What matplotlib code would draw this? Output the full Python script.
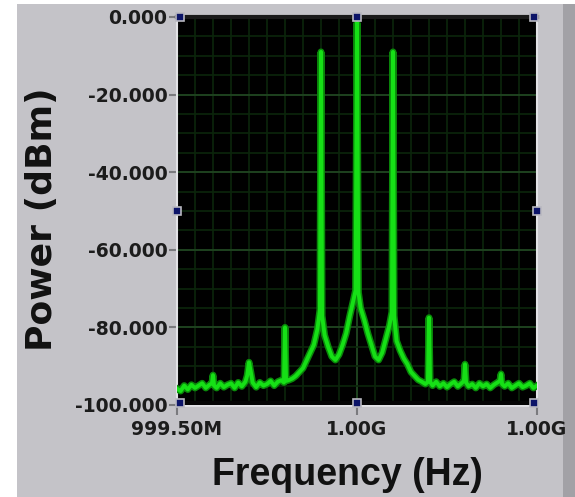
import matplotlib
matplotlib.use("Agg")
import matplotlib.pyplot as plt
from matplotlib.patches import Rectangle
from matplotlib.ticker import FuncFormatter, FixedLocator, MultipleLocator, FixedFormatter

# ---------------- data ----------------
# frequency offset from 1.000 GHz, in kHz
offset_khz = [
    -500, -490, -480, -470, -460, -450, -440, -430, -420, -410,
    -403, -400, -397, -390, -380, -370, -360, -350, -340, -330,
    -320, -310, -305, -300, -295, -290, -280, -270, -260, -250,
    -240, -230, -220, -210, -203, -200, -197, -190, -180, -170,
    -160, -150, -140, -130, -120, -110, -103, -100, -97, -90,
    -80, -70, -60, -50, -40, -30, -20, -10, -4, 0,
    4, 10, 20, 30, 40, 50, 60, 70, 80, 90,
    97, 100, 103, 110, 120, 130, 140, 150, 160, 170,
    180, 190, 197, 200, 203, 210, 220, 230, 240, 250,
    260, 270, 280, 290, 297, 300, 303, 310, 320, 330,
    340, 350, 360, 370, 380, 390, 397, 400, 403, 410,
    420, 430, 440, 450, 460, 470, 480, 490, 500,
]
power_dbm = [
    -95.8, -96.4, -95.0, -96.0, -94.8, -95.6, -95.0, -94.4, -95.6, -94.8,
    -94.4, -92.3, -95.0, -95.6, -94.4, -95.4, -94.8, -94.4, -95.6, -94.2,
    -95.2, -94.0, -92.4, -89.0, -91.5, -94.2, -95.4, -94.2, -95.0, -94.6,
    -93.8, -95.0, -94.0, -93.6, -94.2, -80.0, -93.8, -93.6, -93.2, -92.5,
    -91.5, -90.5, -88.5, -86.5, -84.5, -80.5, -75.5, -9.0, -77.0, -82.0,
    -85.0, -87.5, -88.4, -87.0, -84.5, -81.5, -77.0, -73.0, -70.5, -1.5,
    -71.0, -75.0, -78.0, -81.5, -84.5, -87.5, -88.4, -86.5, -83.0, -79.5,
    -76.0, -9.0, -77.0, -83.5, -86.0, -88.0, -89.5, -91.5, -92.5, -93.5,
    -94.0, -94.6, -94.0, -77.5, -94.0, -95.0, -94.0, -95.2, -94.4, -95.4,
    -94.6, -94.0, -95.2, -94.4, -93.8, -89.5, -94.2, -95.2, -94.6, -95.6,
    -94.4, -95.2, -94.6, -95.6, -94.8, -94.2, -93.8, -92.0, -94.6, -95.2,
    -94.4, -95.6, -95.0, -94.4, -95.4, -95.0, -94.4, -95.6, -95.0,
]
center_mhz = 1000.0
x_ticks_mhz = [999.5, 1000.0, 1000.5]
x_tick_labels = ["999.50M", "1.00G", "1.00G"]
y_ticks = [0, -20, -40, -60, -80, -100]
x_label = "Frequency (Hz)"
y_label = "Power (dBm)"

# ---------------- figure ----------------
W, H = 575, 497
fig = plt.figure(figsize=(W / 100, H / 100), dpi=100)
fig.patch.set_facecolor("white")

# grey LabVIEW panel
panel = "#c4c3c8"
fig.patches.append(Rectangle((17 / W, 0), (563 - 17) / W, (H - 4) / H,
                             transform=fig.transFigure, facecolor=panel,
                             edgecolor="none", zorder=-10))
fig.patches.append(Rectangle((563 / W, 0), 12 / W, (H - 4) / H,
                             transform=fig.transFigure, facecolor="#a2a1a6",
                             edgecolor="none", zorder=-10))

L, R, T, B = 177, 537, 17, 405
ax = fig.add_axes([L / W, 1 - B / H, (R - L) / W, (B - T) / H])
ax.set_zorder(1)
ax.set_facecolor("#000000")

freq = [center_mhz + o / 1000.0 for o in offset_khz]
ax.plot(freq, power_dbm, color="#0a8a0a", lw=5.0, zorder=3)
ax.plot(freq, power_dbm, color="#16e016", lw=2.8, zorder=4)

ax.set_xlim(999.5, 1000.5)
ax.set_ylim(-100, 0)

# grid
ax.xaxis.set_major_locator(FixedLocator(x_ticks_mhz))
ax.xaxis.set_major_formatter(FixedFormatter(x_tick_labels))
ax.xaxis.set_minor_locator(MultipleLocator(0.05))
ax.yaxis.set_major_locator(FixedLocator(y_ticks))
ax.yaxis.set_minor_locator(MultipleLocator(5))
ax.yaxis.set_major_formatter(FuncFormatter(lambda v, p: ("%.3f" % v).replace("\u2212", "-")))
ax.grid(which="minor", color="#0b260b", lw=1.2, zorder=1)
ax.grid(which="major", color="#1e421f", lw=1.4, zorder=1)
ax.set_axisbelow(True)

ax.tick_params(axis="both", which="minor", length=0)
ax.tick_params(axis="y", which="major", direction="out", length=6, width=1.5,
               color="#7a7a7e", pad=1, labelcolor="#1c1c1c")
ax.tick_params(axis="x", which="major", direction="out", length=7, width=1.5,
               color="#7a7a7e", pad=4, labelcolor="#1c1c1c")
for lab in ax.get_xticklabels() + ax.get_yticklabels():
    lab.set_fontfamily("DejaVu Sans")
    lab.set_fontweight("bold")
    lab.set_fontsize(13.5)

# frame
ax.spines["top"].set_color("#1a1a1a")
ax.spines["top"].set_linewidth(3.0)
ax.spines["left"].set_color("#e2e2e6")
ax.spines["left"].set_linewidth(1.5)
ax.spines["right"].set_color("#e2e2e6")
ax.spines["right"].set_linewidth(1.5)
ax.spines["bottom"].set_color("#e2e2e6")
ax.spines["bottom"].set_linewidth(2.0)
ax.axhspan(-100, -99.0, color="#050505", zorder=5)

# cursor handles (decoration)
handles = [(0.008, 1), (0.5, 1), (0.992, 1), (0, 0.5), (1, 0.5),
           (0.008, 0.005), (0.5, 0.005), (0.992, 0.005)]
for hx, hy in handles:
    ax.plot([hx], [hy], marker="s", ms=6.0, mfc="#0c1468", mec="#b8b8c0", mew=1.2,
            transform=ax.transAxes, clip_on=False, zorder=10)

fig.text(42 / W, 1 - 219 / H, y_label, rotation=90, ha="center", va="center",
         fontsize=26, fontweight="bold", family="DejaVu Sans", color="#111111")
fig.text(347 / W, 1 - 485 / H, x_label, ha="center", va="baseline",
         fontsize=27, fontweight="bold", family="Liberation Sans", color="#111111")

fig.savefig("out.png", dpi=100, facecolor=fig.get_facecolor())
